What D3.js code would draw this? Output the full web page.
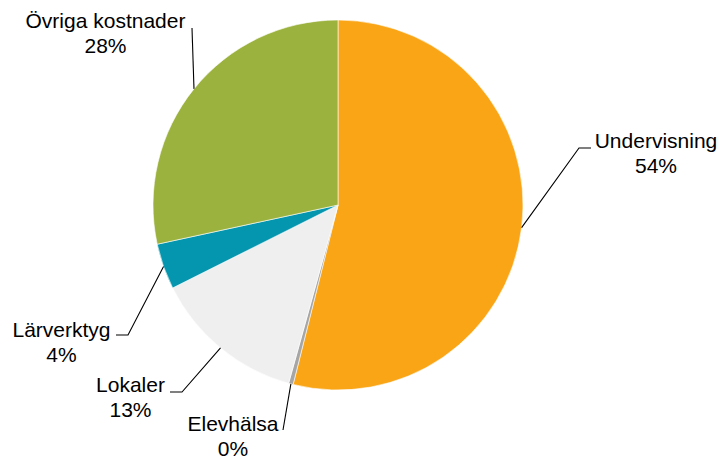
<!DOCTYPE html>
<html>
<head>
<meta charset="utf-8">
<script src="https://cdn.jsdelivr.net/npm/d3@7"></script>
<style>
  body { margin: 0; background: #fff; }
  svg text { font-family: "Liberation Sans", Arial, sans-serif; font-size: 21px; fill: #000; }
</style>
</head>
<body>
<svg width="721" height="457"></svg>
<script>
// Data (share of total, %)
const categories = ["Undervisning", "Elevhälsa", "Lokaler", "Lärverktyg", "Övriga kostnader"];
const values = [53.9, 0.4, 13.3, 4.0, 28.4];
const percentLabels = ["54%", "0%", "13%", "4%", "28%"];
const colors = ["#F9A515", "#A6A6A6", "#EFEFEF", "#0496AE", "#9BB23E"];

// label placement: elbow point of the leader, end of the short horizontal, text centre
const labelLayout = [
  { elbow: [579, 148], end: [591, 148], tx: 656, ty: 148 },
  { elbow: [283, 430], end: [283, 430], tx: 233, ty: 431 },
  { elbow: [182, 392], end: [170, 392], tx: 130.5, ty: 392 },
  { elbow: [128, 335], end: [116, 335], tx: 61.5, ty: 337 },
  { elbow: [192, 28], end: [192, 28], tx: 105.5, ty: 28 }
];

const svg = d3.select("svg");
const cx = 338, cy = 205, radius = 185;

const g = svg.append("g").attr("transform", `translate(${cx},${cy})`);

const data = categories.map((c, i) => ({ name: c, value: values[i], pct: percentLabels[i], color: colors[i], lay: labelLayout[i] }));

const pie = d3.pie().sort(null).value(d => d.value);
const arc = d3.arc().innerRadius(0).outerRadius(radius);

const arcs = pie(data);

g.selectAll("path.slice")
  .data(arcs)
  .enter().append("path")
  .attr("class", "slice")
  .attr("d", arc)
  .attr("fill", d => d.data.color)
  .attr("stroke", "#fff")
  .attr("stroke-width", 0.6);

// leader lines start at the slice's mid-angle on the rim
const rim = d3.arc().innerRadius(radius).outerRadius(radius);

svg.selectAll("polyline.leader")
  .data(arcs)
  .enter().append("polyline")
  .attr("class", "leader")
  .attr("fill", "none")
  .attr("stroke", "#000")
  .attr("stroke-width", 1.1)
  .attr("points", d => {
    const mid = (d.startAngle + d.endAngle) / 2;
    const sx = cx + radius * Math.sin(mid);
    const sy = cy - radius * Math.cos(mid);
    const l = d.data.lay;
    return [[sx, sy], l.elbow, l.end].map(p => p.join(",")).join(" ");
  });

const labels = svg.selectAll("text.label")
  .data(arcs)
  .enter().append("text")
  .attr("class", "label")
  .attr("text-anchor", "middle");

labels.append("tspan")
  .attr("x", d => d.data.lay.tx)
  .attr("y", d => d.data.lay.ty)
  .text(d => d.data.name);

labels.append("tspan")
  .attr("x", d => d.data.lay.tx)
  .attr("y", d => d.data.lay.ty + 24.5)
  .text(d => d.data.pct);
</script>
</body>
</html>
